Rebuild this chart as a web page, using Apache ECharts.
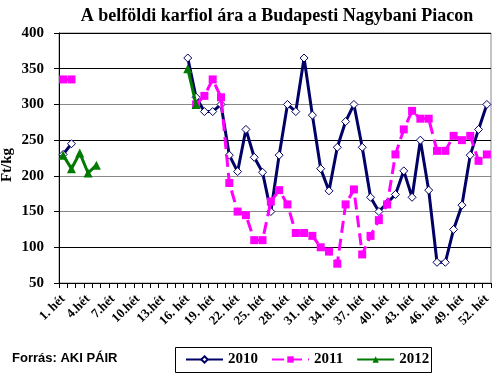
<!DOCTYPE html>
<html>
<head>
<meta charset="utf-8">
<script src="https://cdn.jsdelivr.net/npm/echarts@6/dist/echarts.min.js"></script>
<style>
  html, body { margin: 0; padding: 0; background: #fff; }
  #chart { width: 500px; height: 376px; }
</style>
</head>
<body>
<div id="chart"></div>
<script>
// hetek 1-52, címkék minden 3. héten
const weeks = [];
for (let i = 1; i <= 52; i++) {
    weeks.push(i < 16 ? i + '.hét' : i + '. hét');
}
weeks[0] = '1. hét';

const yTicks = { min: 50, max: 400, step: 50 };

const data2010 = [230, 245, null, null, null, null, null, null, null, null, null, null, null, null, null,
    365, 310, 290, 290, 300, 229, 206, 265, 226, 205, 150, 229, 300, 290, 365, 285, 210, 179,
    240, 276, 300, 240, 170, 150, 162, 174, 207, 170, 250, 180, 79, 79, 125, 159, 229, 265, 300];

const data2011 = [335, 335, null, null, null, null, null, null, null, null, null, null, null, null, null,
    null, 300, 312, 335, 310, 190, 150, 145, 110, 110, 164, 180, 160, 120, 120, 116, 100, 94,
    77, 160, 181, 90, 116, 138, 160, 230, 265, 291, 280, 280, 235, 235, 256, 250, 256, 221, 230];

const data2012 = [229, 210, 232, 204, 215, null, null, null, null, null, null, null, null, null, null,
    350, 300];

const serif = '"Liberation Serif", "Times New Roman", serif';

const chart = echarts.init(document.getElementById('chart'));

const option = {
    animation: false,
    title: {
        text: 'A belföldi karfiol ára a Budapesti Nagybani Piacon',
        left: 272,
        textAlign: 'center',
        top: 2,
        textStyle: { fontFamily: serif, fontWeight: 'bold', fontSize: 18, color: '#000' }
    },
    grid: {
        left: 59, right: 9, top: 33, bottom: 93,
        outerBoundsMode: 'none',
        containLabel: false,
        show: true, borderColor: '#888', borderWidth: 1
    },
    legend: {
        left: 185, top: 352,
        padding: 0,
        itemWidth: 37, itemHeight: 8, itemGap: 13,
        textStyle: { fontFamily: serif, fontWeight: 'bold', fontSize: 15, color: '#000' },
        data: ['2010', '2011', '2012']
    },
    graphic: [
        {
            type: 'rect',
            shape: { x: 175.5, y: 347.5, width: 256, height: 25 },
            style: { fill: 'none', stroke: '#000', lineWidth: 1 }
        },
        {
            type: 'text',
            left: 12, top: 352,
            style: { text: 'Forrás: AKI PÁIR', font: 'bold 13px "Liberation Sans", Arial, sans-serif', fill: '#000' }
        }
    ],
    xAxis: {
        type: 'category',
        data: weeks,
        boundaryGap: true,
        axisLine: { lineStyle: { color: '#000', width: 1 } },
        axisTick: { show: true, interval: 0, length: 5, lineStyle: { color: '#000' } },
        axisLabel: {
            interval: 2, rotate: 45, margin: 14,
            fontFamily: serif, fontWeight: 'bold', fontSize: 13, color: '#000'
        },
        splitLine: { show: false }
    },
    yAxis: {
        type: 'value',
        min: yTicks.min, max: yTicks.max, interval: yTicks.step,
        name: 'Ft/kg',
        nameLocation: 'middle',
        nameGap: 44,
        nameMoveOverlap: false,
        nameTextStyle: { fontFamily: serif, fontWeight: 'bold', fontSize: 15, color: '#000', padding: [0, 14, 0, 0] },
        axisLine: { show: true, lineStyle: { color: '#000', width: 1 } },
        axisTick: { show: true, length: 5, lineStyle: { color: '#000' } },
        axisLabel: { margin: 15, fontFamily: serif, fontWeight: 'bold', fontSize: 15, color: '#000' },
        splitLine: {
            lineStyle: { color: ['#000', '#000', '#888', '#888', '#000', '#888', '#000', '#000'], width: 1 }
        }
    },
    series: [
        {
            name: '2010', type: 'line', data: data2010,
            symbol: 'diamond', symbolSize: 8, showAllSymbol: true,
            lineStyle: { color: '#000066', width: 3 },
            itemStyle: { color: '#ffffff', borderColor: '#000066', borderWidth: 1 },
            z: 3
        },
        {
            name: '2011', type: 'line', data: data2011,
            symbol: 'rect', symbolSize: 8, showAllSymbol: true,
            lineStyle: { color: '#ff00ff', width: 3, type: [12, 6] },
            itemStyle: { color: '#ff00ff' },
            z: 4
        },
        {
            name: '2012', type: 'line', data: data2012,
            symbol: 'triangle', symbolSize: 9, showAllSymbol: true,
            lineStyle: { color: '#007a00', width: 3 },
            itemStyle: { color: '#007a00' },
            z: 5
        }
    ]
};

chart.setOption(option);
</script>
</body>
</html>
